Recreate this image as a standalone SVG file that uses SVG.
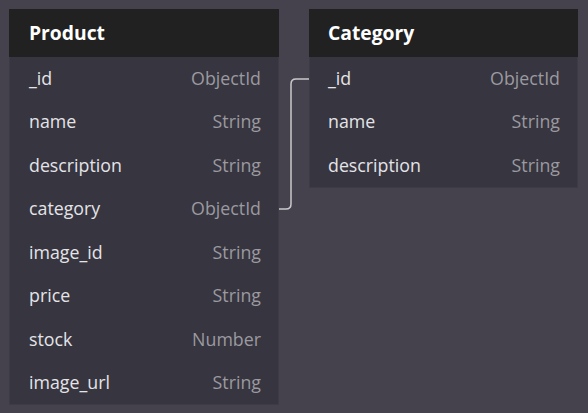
<svg xmlns="http://www.w3.org/2000/svg" width="588" height="413" viewBox="0 0 588 413">
<style>
.bg{fill:#45424d}
.body{fill:#37353f;stroke:#3d3b45;stroke-width:1}
.head{fill:#212121}
.title{font-family:"Open Sans",sans-serif;font-weight:bold;font-size:19.3px;fill:#ffffff}
.f{font-family:"Open Sans",sans-serif;font-size:17.8px;fill:#e4e4e8}
.t{font-family:"Open Sans",sans-serif;font-size:17.8px;fill:#9b9aa0;text-anchor:end}
.conn{fill:none;stroke:#c9c9cc;stroke-width:1.5}
</style>
<rect class="bg" x="0" y="0" width="588" height="413"/>
<g id="connectors">
<path class="conn" d="M279,209 H286 Q291,209 291,204 V84 Q291,79 296,79 H309"/>
</g>
<g id="product">
<rect class="body" x="9.5" y="9.5" width="269" height="395"/>
<rect class="head" x="9" y="9" width="270" height="48"/>
<text class="title" x="29" y="40">Product</text>
<text class="f" x="29" y="84.5">_id</text><text class="t" x="261" y="84.5">ObjectId</text>
<text class="f" x="29" y="128">name</text><text class="t" x="261" y="128">String</text>
<text class="f" x="29" y="171.5">description</text><text class="t" x="261" y="171.5">String</text>
<text class="f" x="29" y="215">category</text><text class="t" x="261" y="215">ObjectId</text>
<text class="f" x="29" y="258.5">image_id</text><text class="t" x="261" y="258.5">String</text>
<text class="f" x="29" y="302">price</text><text class="t" x="261" y="302">String</text>
<text class="f" x="29" y="345.5">stock</text><text class="t" x="261" y="345.5">Number</text>
<text class="f" x="29" y="389">image_url</text><text class="t" x="261" y="389">String</text>
</g>
<g id="category">
<rect class="body" x="309.5" y="9.5" width="268" height="178"/>
<rect class="head" x="309" y="9" width="269" height="48"/>
<text class="title" x="328" y="40">Category</text>
<text class="f" x="328" y="84.5">_id</text><text class="t" x="560" y="84.5">ObjectId</text>
<text class="f" x="328" y="128">name</text><text class="t" x="560" y="128">String</text>
<text class="f" x="328" y="171.5">description</text><text class="t" x="560" y="171.5">String</text>
</g>
</svg>
